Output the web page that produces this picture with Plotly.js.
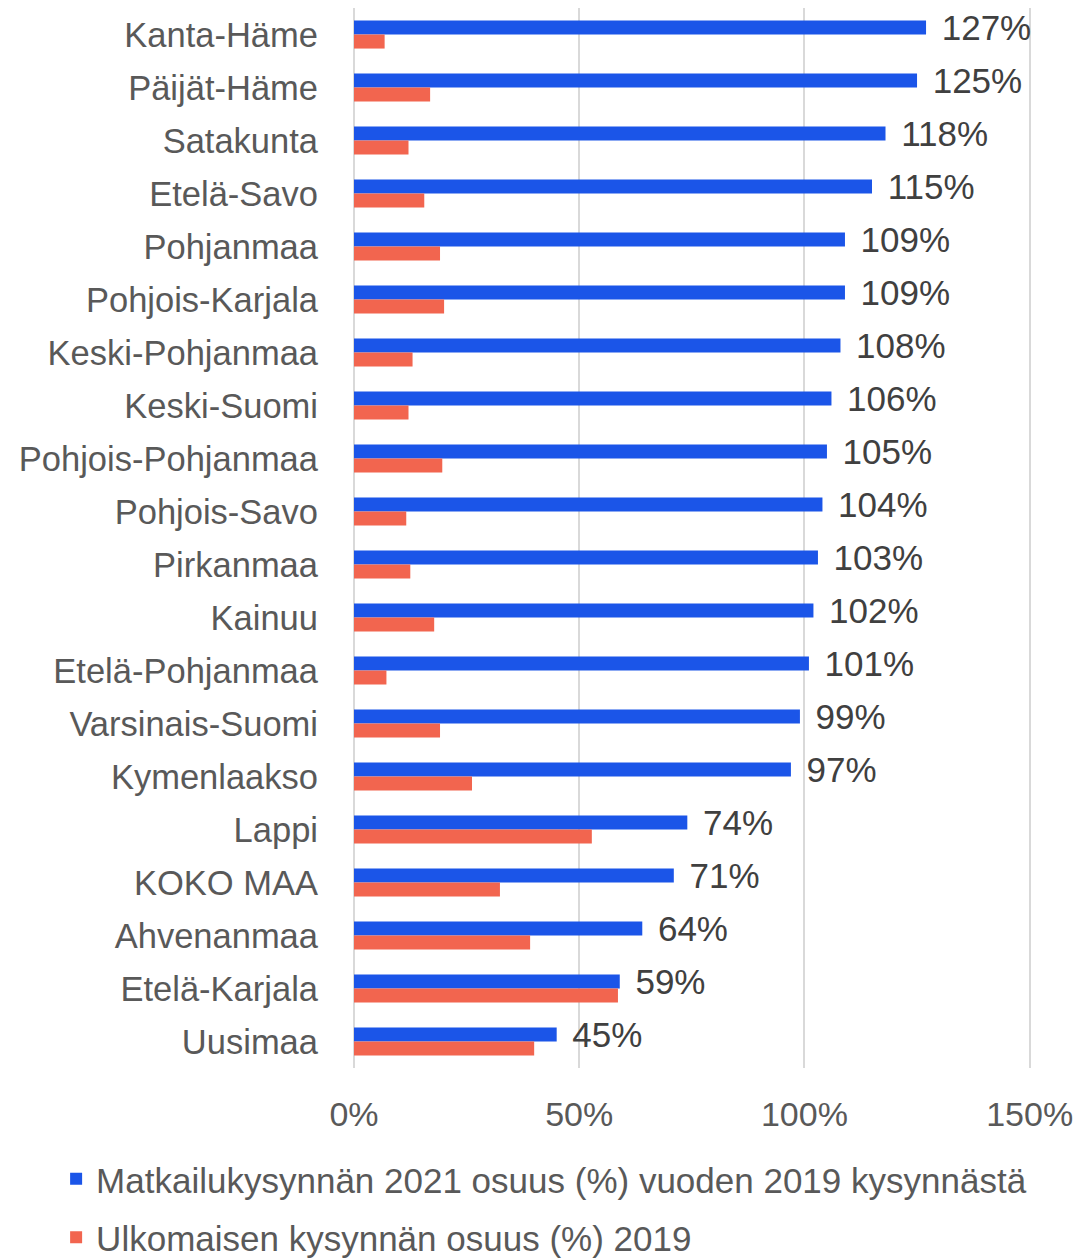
<!DOCTYPE html>
<html>
<head>
<meta charset="utf-8">
<script src="https://cdn.plot.ly/plotly-3.0.1.min.js"></script>
<style>
html,body{margin:0;padding:0;background:#fff;}
#chart{width:1083px;height:1259px;}
</style>
</head>
<body>
<div id="chart"></div>
<script>
const regions = ["Kanta-Häme","Päijät-Häme","Satakunta","Etelä-Savo","Pohjanmaa","Pohjois-Karjala","Keski-Pohjanmaa","Keski-Suomi","Pohjois-Pohjanmaa","Pohjois-Savo","Pirkanmaa","Kainuu","Etelä-Pohjanmaa","Varsinais-Suomi","Kymenlaakso","Lappi","KOKO MAA","Ahvenanmaa","Etelä-Karjala","Uusimaa"];
const demand2021 = [127,125,118,115,109,109,108,106,105,104,103,102,101,99,97,74,71,64,59,45];
const foreignShare2019 = [6.8,16.9,12.1,15.6,19.1,20.0,13.0,12.1,19.6,11.6,12.5,17.8,7.2,19.1,26.2,52.8,32.4,39.1,58.6,40.0];
const seriesNames = ["Matkailukysynnän 2021 osuus (%) vuoden 2019 kysynnästä","Ulkomaisen kysynnän osuus (%) 2019"];
const xTickVals = [0,50,100,150];
const xTickText = ["0%","50%","100%","150%"];

const FONT = "Liberation Sans, Arial, sans-serif";

const traces = [
  {
    type: "bar", orientation: "h",
    y: regions, x: demand2021,
    name: seriesNames[0], legendgroup: "a",
    marker: {color: "#1b55e8"},
    text: demand2021.map(v => "\u00a0\u200a" + v + "%"),
    texttemplate: "%{text}",
    textposition: "outside",
    constraintext: "none",
    cliponaxis: false,
    textfont: {family: FONT, size: 35, color: "#404040"},
    hoverinfo: "skip"
  },
  {
    type: "bar", orientation: "h",
    y: regions, x: foreignShare2019,
    name: seriesNames[1], legendgroup: "b",
    marker: {color: "#f2654f"},
    hoverinfo: "skip"
  }
];

const layout = {
  width: 1083, height: 1259,
  margin: {l: 353.5, r: 52, t: 7.5, b: 190.5, autoexpand: false},
  paper_bgcolor: "#fff", plot_bgcolor: "#fff",
  barmode: "group", bargap: 0.47, bargroupgap: 0,
  font: {family: FONT, size: 34, color: "#595959"},
  showlegend: true,
  legend: {
    orientation: "v", x: -0.44, xanchor: "left", y: -0.077, yanchor: "top",
    font: {family: FONT, size: 35, color: "#595959"},
    tracegroupgap: 10, traceorder: "grouped",
    bgcolor: "rgba(0,0,0,0)"
  },
  xaxis: {
    range: [0, 150.3], tickvals: xTickVals, ticktext: xTickText,
    showgrid: true, gridcolor: "#d9d9d9", gridwidth: 2,
    zeroline: true, zerolinecolor: "#d9d9d9", zerolinewidth: 2,
    showline: false, ticks: "", ticklabelstandoff: 23,
    tickfont: {family: FONT, size: 34, color: "#595959"},
    fixedrange: true
  },
  yaxis: {
    type: "category", autorange: "reversed",
    showgrid: false, zeroline: false, showline: false, ticks: "",
    ticklabelstandoff: 35,
    tickfont: {family: FONT, size: 34.5, color: "#595959"},
    fixedrange: true
  }
};

Plotly.newPlot("chart", traces, layout, {displayModeBar: false, staticPlot: true});
</script>
</body>
</html>
